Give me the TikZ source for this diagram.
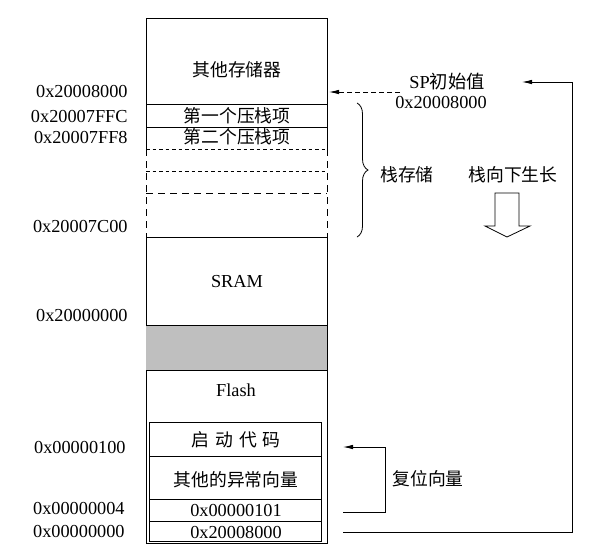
\documentclass[tikz,border=0pt]{standalone}
\usepackage{fontspec}
\setmainfont{Liberation Serif}
\newfontfamily\cjk{Noto Sans CJK SC}
\usetikzlibrary{arrows.meta,decorations.pathreplacing}
\begin{document}
\begin{tikzpicture}[x=1pt,y=-1pt,line width=0.8pt,
  lbl/.style={font=\fontsize{18.3}{21}\selectfont,inner sep=0pt},
  addr/.style={lbl,anchor=east},
  zh/.style={font=\fontsize{17.8}{21}\selectfont\cjk,inner sep=0pt},
  tipa/.style={-{Latex[length=10pt,width=4.5pt]}},
  shortdash/.style={dash pattern=on 3.5pt off 3pt},
  longdash/.style={dash pattern=on 7pt off 5pt}]
\useasboundingbox (0,0) rectangle (607,550);
% main memory column
\draw (146,149) -- (146,18) -- (327,18) -- (327,149);
\draw[longdash] (146,149) -- (146,237);
\draw[longdash] (327,149) -- (327,237);
\draw (146,237) -- (146,543) -- (327,543) -- (327,237);
\draw (146,104) -- (327,104);
\draw (146,127) -- (327,127);
\draw[shortdash] (146,149) -- (327,149);
\draw[shortdash] (146,171) -- (327,171);
\draw[longdash] (146,193) -- (327,193);
\draw (146,237) -- (327,237);
\fill[gray!50] (146,325) rectangle (327,370);
\draw (146,325) -- (327,325);
\draw (146,370) -- (327,370);
% inner flash block
\draw (149,422) rectangle (321,541);
\draw (149,456) -- (321,456);
\draw (149,499) -- (321,499);
\draw (149,521) -- (321,521);
% texts in column
\node[zh] (other) at (237,70) {其他存储器};
\node[zh] (push1) at (237,116) {第一个压栈项};
\node[zh] (push2) at (237,137) {第二个压栈项};
\node[lbl] (sram) at (237,282) {SRAM};
\node[lbl] (flash) at (236,390) {Flash};
\node[zh] (boot) at (236,440) {启\hspace{6pt}动\hspace{6pt}代\hspace{6pt}码};
\node[zh] (exc) at (236,480) {其他的异常向量};
\node[lbl] (rv) at (236,510) {0x00000101};
\node[lbl] (spv) at (236,532) {0x20008000};
% addresses
\node[addr] (a1) at (128,91) {0x20008000};
\node[addr] (a2) at (128,116) {0x20007FFC};
\node[addr] (a3) at (128,137) {0x20007FF8};
\node[addr] (a4) at (128,226) {0x20007C00};
\node[addr] (a5) at (128,315) {0x20000000};
\node[addr] (a6) at (126,447) {0x00000100};
\node[addr] (a7) at (125,508) {0x00000004};
\node[addr] (a8) at (125,531) {0x00000000};
% SP initial value
\node[lbl] (sp1) at (447,82) {SP{\cjk 初始值}};
\node[lbl] (sp2) at (441,102) {0x20008000};
\coordinate (spd) at (400,92);
\coordinate (boxr) at (329,92);
\draw[tipa,dash pattern=on 5pt off 3pt] (spd) -- (boxr);
\coordinate (spa) at (343,532);
\coordinate (spb) at (572,532);
\coordinate (spc) at (572,82);
\coordinate (spe) at (522,82);
\draw[tipa] (spa) -- (spb) -- (spc) -- (spe);
% reset vector
\coordinate (ra) at (343,512);
\coordinate (rb) at (385,512);
\coordinate (rc) at (385,447);
\coordinate (rd) at (343,447);
\draw[tipa] (ra) -- (rb) -- (rc) -- (rd);
\node[zh] (reset) at (428,479) {复位向量};
% brace
\coordinate (bt) at (357,103);
\coordinate (bb) at (357,237);
\draw[decorate,decoration={brace,amplitude=11pt}] (bt) -- (bb);
\node[zh] (stk) at (407,175) {栈存储};
\node[zh] (grow) at (513,175) {栈向下生长};
% hollow arrow
\draw[line width=0.8pt] (495,193) -- (519,193) -- (519,226) -- (530,226) -- (507,237) -- (485,226) -- (495,226) -- cycle;
\end{tikzpicture}
\end{document}
